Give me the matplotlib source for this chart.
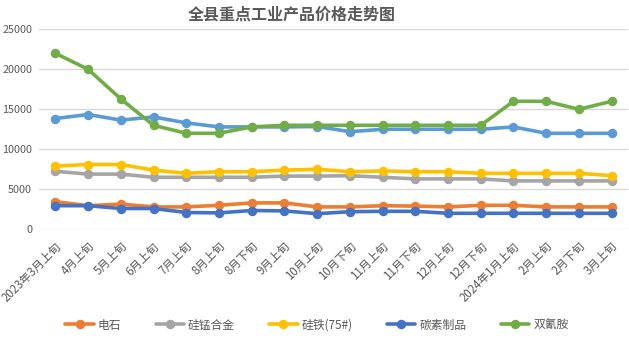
import matplotlib
matplotlib.use("Agg")
import matplotlib.pyplot as plt
import matplotlib.transforms as mtransforms
import numpy as np

plt.rcParams['font.family'] = ['Noto Sans CJK SC', 'DejaVu Sans']

categories = ["2023年3月上旬", "4月上旬", "5月上旬", "6月上旬", "7月上旬", "8月上旬",
              "8月下旬", "9月上旬", "10月上旬", "10月下旬", "11月上旬", "11月下旬",
              "12月上旬", "12月下旬", "2024年1月上旬", "2月上旬", "2月下旬", "3月上旬"]

dianshi = [3450, 2950, 3150, 2800, 2800, 3000, 3300, 3300, 2800, 2800, 2950, 2900,
           2800, 3000, 3000, 2800, 2800, 2800]
guimeng = [7250, 6900, 6900, 6500, 6500, 6500, 6500, 6650, 6650, 6700, 6500, 6300,
           6300, 6300, 6050, 6050, 6050, 6050]
guitie = [7900, 8100, 8100, 7400, 7000, 7200, 7200, 7400, 7500, 7200, 7300, 7200,
          7200, 7000, 7000, 7000, 7000, 6700]
tansu = [2950, 2950, 2600, 2600, 2100, 2050, 2350, 2300, 1950, 2200, 2250, 2250,
         2000, 2000, 2000, 2000, 2000, 2000]
unnamed = [13850, 14350, 13650, 14050, 13300, 12800, 12800, 12800, 12850, 12200, 12500, 12500,
           12500, 12500, 12800, 12000, 12000, 12000]
shuangqing = [22000, 20000, 16300, 13000, 12000, 12000, 12800, 13000, 13000, 13000, 13000, 13000,
              13000, 13000, 16000, 16000, 15000, 16000]

series = [
    ("电石", dianshi, "#ED7D31"),
    ("硅锰合金", guimeng, "#A5A5A5"),
    ("硅铁(75#)", guitie, "#FFC000"),
    ("碳素制品", tansu, "#4472C4"),
    ("_nolegend_", unnamed, "#5B9BD5"),
    ("双氰胺", shuangqing, "#70AD47"),
]

fig = plt.figure(figsize=(6.29, 3.39), dpi=100)
ax = fig.add_axes([39/629, 1-229.3/339, 589/629, 200/339])

x = np.arange(len(categories))
handles = []
for label, vals, col in series:
    h, = ax.plot(x, vals, color=col, lw=2.6, marker='o', markersize=5.8,
                 solid_capstyle='round', label=label)
    if not label.startswith('_'):
        handles.append(h)

ax.set_xlim(-0.5, len(categories) - 0.5)
ax.set_ylim(0, 25000)
ax.set_yticks(np.arange(0, 25001, 5000))
ax.yaxis.grid(True, color='#D9D9D9', lw=1)
ax.set_axisbelow(True)
for s in ax.spines.values():
    s.set_visible(False)
ax.tick_params(axis='y', length=0, pad=5, labelsize=7.8, labelcolor='#595959')
ax.tick_params(axis='x', length=0, pad=10.8, labelsize=8.3, labelcolor='#595959')
ax.set_xticks(x)
ax.set_xticklabels(categories, rotation=45, ha='right', va='center', rotation_mode='anchor')
offset = mtransforms.ScaledTranslation(0.04, 0, fig.dpi_scale_trans)
for t in ax.get_xticklabels():
    t.set_transform(t.get_transform() + offset)

fig.text(0.464, 0.957, "全县重点工业产品价格走势图", ha='center', va='center',
         fontsize=11.5, fontweight='bold', color='#595959')

fig.legend(handles=handles, labels=[h.get_label() for h in handles],
           loc='center', bbox_to_anchor=(317/629, 1-325/339), ncol=5, frameon=False,
           fontsize=8.5, handlelength=2.4, handletextpad=0.35, columnspacing=2.9,
           labelcolor='#595959')

fig.savefig("out.png", dpi=100)
